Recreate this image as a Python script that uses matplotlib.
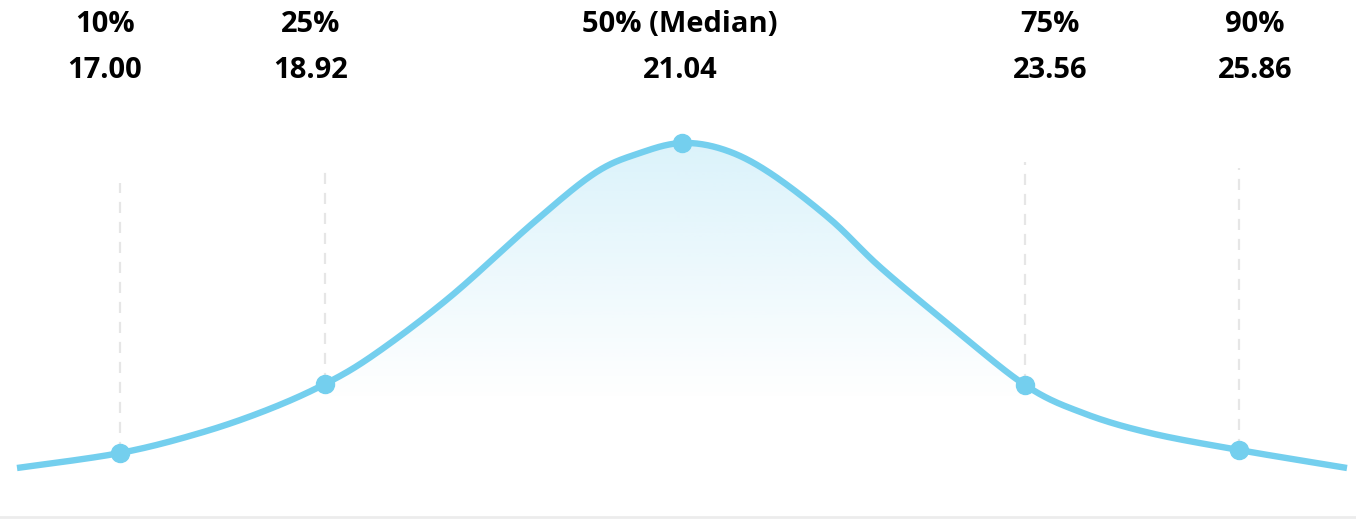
import numpy as np
import matplotlib.pyplot as plt
from matplotlib.patches import Polygon

# percentile markers
pct_labels = ["10%", "25%", "50% (Median)", "75%", "90%"]
pct_values = [17.00, 18.92, 21.04, 23.56, 25.86]

# curve knots (x position, height above bottom)
curve_x = [17, 120, 200, 267, 325, 375, 450, 533, 595, 640, 682,
           725, 770, 830, 880, 947, 1025, 1083, 1150, 1239, 1347]
curve_h = [51, 66, 86, 109, 135, 165, 222, 296, 346, 366, 376,
           369, 346, 300, 252, 196, 134, 106, 86, 69, 51]
marker_idx = [1, 4, 10, 16, 19]

# layout
label_x = [105, 311, 680, 1050, 1255]
guide_top = [336, 347, None, 357, 351]
W, H = 1356, 519
line_col = "#74cfee"


def catmull_rom(xs, ys, n=40):
    pts = np.column_stack([xs, ys]).astype(float)
    pts = np.vstack([pts[0], pts, pts[-1]])
    out = []
    t = np.linspace(0, 1, n, endpoint=False)[:, None]
    for i in range(1, len(pts) - 2):
        p0, p1, p2, p3 = pts[i - 1], pts[i], pts[i + 1], pts[i + 2]
        seg = 0.5 * ((2 * p1) + (-p0 + p2) * t + (2 * p0 - 5 * p1 + 4 * p2 - p3) * t ** 2
                     + (-p0 + 3 * p1 - 3 * p2 + p3) * t ** 3)
        out.append(seg)
    out.append(pts[-2][None, :])
    return np.vstack(out)


fig = plt.figure(figsize=(W / 100, H / 100), dpi=100)
ax = fig.add_axes([0, 0, 1, 1])
ax.set_xlim(0, W)
ax.set_ylim(0, H)
ax.axis("off")

smooth = catmull_rom(curve_x, curve_h)

# gradient fill under the middle part of the curve
lo, hi = curve_x[marker_idx[1]], curve_x[marker_idx[3]]
base = 119
seg = smooth[(smooth[:, 0] >= lo) & (smooth[:, 0] <= hi)]
poly = np.vstack([[seg[0, 0], base], seg, [seg[-1, 0], base]])
clip = Polygon(poly, closed=True, facecolor="none", edgecolor="none", transform=ax.transData)
ax.add_patch(clip)
top = max(curve_h)
grad = np.zeros((256, 1, 4))
rgb = np.array([0x74, 0xcf, 0xee]) / 255
grad[:, 0, :3] = rgb
grad[:, 0, 3] = np.linspace(0.26, 0.0, 256)
im = ax.imshow(grad, extent=[lo, hi, base, top], origin="upper", aspect="auto",
               interpolation="bilinear", zorder=1)
im.set_clip_path(clip)

# dashed guides
for k, i in enumerate(marker_idx):
    if guide_top[k] is None:
        continue
    ax.vlines(curve_x[i], curve_h[i], guide_top[k], colors="#e6e6e6", linewidth=1.6,
              linestyles=(0, (5, 4)), zorder=1)

ax.plot(smooth[:, 0], smooth[:, 1], color=line_col, linewidth=4.6,
        solid_capstyle="butt", zorder=3)
ax.plot([curve_x[i] for i in marker_idx], [curve_h[i] for i in marker_idx], "o",
        color=line_col, markersize=13, zorder=4)

# bottom rule
ax.axhline(2, color="#ececec", linewidth=2, zorder=0)

for lx, lab, val in zip(label_x, pct_labels, pct_values):
    ax.text(lx, H - 24, lab, ha="center", va="center", fontsize=21,
            fontweight="bold", family="Open Sans")
    ax.text(lx, H - 70, f"{val:.2f}", ha="center", va="center", fontsize=21,
            fontweight="bold", family="Open Sans")

fig.savefig("out.png", dpi=100, facecolor="white")
